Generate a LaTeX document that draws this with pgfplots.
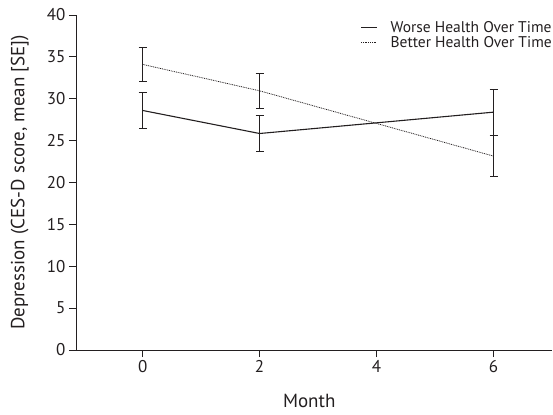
\documentclass[border=0pt]{standalone}
\usepackage{fontspec}
\setmainfont{PT Sans}
\usepackage{pgfplots}
\pgfplotsset{compat=1.18}
\newcommand\ft{\fontsize{17bp}{19bp}\selectfont}
\newcommand\fl{\fontsize{19bp}{21bp}\selectfont}
\newcommand\fg{\fontsize{15.5bp}{17bp}\selectfont}
\definecolor{ink}{HTML}{231F20}
\begin{document}
\begin{tikzpicture}
\begin{axis}[
  at={(0,0)}, anchor=south west,
  scale only axis, width=476bp, height=335bp,
  xmin=-1.14, xmax=7, ymin=0, ymax=40,
  axis x line=bottom, axis y line=left,
  axis line style={-, ink, line width=0.9bp},
  xtick={0,2,4,6}, ytick={0,5,...,40},
  tick align=outside, major tick length=7bp,
  tick style={ink, line width=0.9bp},
  /pgf/number format/assume math mode=true,
  tick label style={font=\ft, text=ink},
  label style={font=\fl, text=ink},
  xlabel={Month},
  ylabel={Depression (CES-D score, mean [SE])},
  xlabel style={at={(axis description cs:0.49,-0.153)}, anchor=center},
  ylabel style={at={(axis description cs:-0.118,0.5)}, anchor=center},
  legend style={draw=none, fill=none, font=\fg, text=ink, at={(axis description cs:1.004,0.987)}, anchor=north east, row sep=-1.5bp, inner xsep=0pt, inner ysep=0pt, cells={anchor=west},
    /tikz/every odd column/.append style={column sep=11bp}},
  legend image code/.code={\draw[#1] (0bp,0bp) -- (16bp,0bp);},
]
\addplot[ink, line width=1.1bp,
  error bars/.cd, y dir=both, y explicit,
  error bar style={line width=1bp, ink},
  error mark options={rotate=90, mark size=4bp, line width=1bp, ink}]
  table[x=x, y=y, y error=e] {
x y e
0 28.6 2.1
2 25.85 2.1
6 28.4 2.75
};
\addlegendentry{Worse Health Over Time}
\addplot[ink, line width=0.8bp, dash pattern=on 0.9bp off 0.9bp,
  error bars/.cd, y dir=both, y explicit,
  error bar style={line width=1bp, ink, solid},
  error mark options={rotate=90, mark size=4bp, line width=1bp, ink, solid}]
  table[x=x, y=y, y error=e] {
x y e
0 34.1 2.0
2 30.95 2.1
6 23.15 2.45
};
\addlegendentry{Better Health Over Time}
\end{axis}
\pgfresetboundingbox
\path[use as bounding box] (-76bp,-65bp) rectangle (477bp,350bp);
\end{tikzpicture}
\end{document}
